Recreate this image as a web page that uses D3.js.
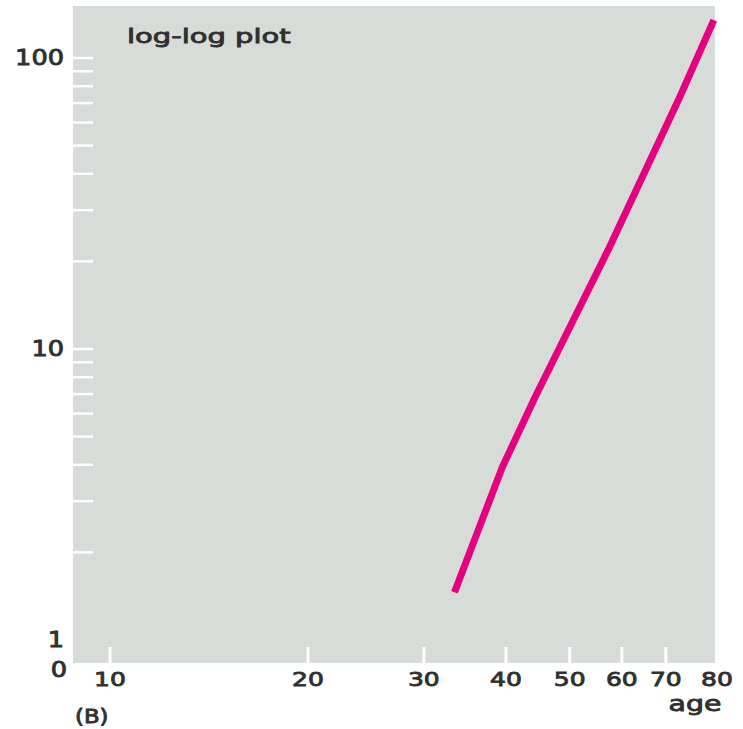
<!DOCTYPE html>
<html>
<head>
<meta charset="utf-8">
<script src="https://cdn.jsdelivr.net/npm/d3@7"></script>
<style>
  html, body { margin: 0; padding: 0; background: #fff; }
  svg { display: block; }
  text { font-family: "DejaVu Sans", sans-serif; fill: #303030; stroke: #303030; stroke-width: 0.85; }
</style>
</head>
<body>
<script>
// age vs. value (log-log)
const ages = [33.4, 39.5, 44.3, 57.2, 73.5, 82.8];
const values = [1.46, 3.93, 6.84, 21.9, 73.5, 135];

const xTicks = [10, 20, 30, 40, 50, 60, 70];
const xLabels = [10, 20, 30, 40, 50, 60, 70, 80];
const yTicks = [2, 3, 4, 5, 6, 7, 8, 9, 10, 20, 30, 40, 50, 60, 70, 80, 90, 100];
const yLabels = [1, 10, 100];

const width = 743, height = 729;
const plot = { left: 73, right: 715, top: 6, bottom: 663 };

const svg = d3.select('body').append('svg')
  .attr('width', width)
  .attr('height', height);

const x = d3.scaleLog().domain([10, 80]).range([110, 704]);
const y = d3.scaleLog().domain([1, 100]).range([640, 58]);

// plot background
svg.append('rect')
  .attr('x', plot.left)
  .attr('y', plot.top)
  .attr('width', plot.right - plot.left)
  .attr('height', plot.bottom - plot.top)
  .attr('fill', '#d8dcd8');

// y ticks (white, inside the plot)
svg.append('g')
  .selectAll('line')
  .data(yTicks)
  .join('line')
  .attr('x1', plot.left)
  .attr('x2', plot.left + 20)
  .attr('y1', d => y(d))
  .attr('y2', d => y(d))
  .attr('stroke', '#fff')
  .attr('stroke-width', 2.5);

// x ticks
svg.append('g')
  .selectAll('line')
  .data(xTicks)
  .join('line')
  .attr('x1', d => x(d))
  .attr('x2', d => x(d))
  .attr('y1', plot.bottom)
  .attr('y2', plot.bottom - 16)
  .attr('stroke', '#fff')
  .attr('stroke-width', 3);

// stretched text helper (the original type is a wide face)
function label(g, tx, ty, str, size, anchor, sx) {
  return g.append('text')
    .attr('transform', `translate(${tx},${ty}) scale(${sx},1)`)
    .attr('text-anchor', anchor)
    .attr('font-size', size)
    .text(str);
}

const txt = svg.append('g');

yLabels.forEach(v => label(txt, 64, y(v) + 7, v, 21, 'end', 1.22));
label(txt, 67, 677, '0', 21, 'end', 1.22);

xLabels.forEach((v, i) => {
  const dx = i === xLabels.length - 1 ? 13 : 0; // last label sits right of the edge
  label(txt, x(v) + dx, 686, v, 20, 'middle', 1.25);
});

label(txt, 695, 711, 'age', 21, 'middle', 1.35);
label(txt, 75, 723, '(B)', 19, 'start', 1.2);
label(txt, 127, 43, 'log-log plot', 20, 'start', 1.45);

// data line
const line = d3.line()
  .x((d, i) => x(ages[i]))
  .y(d => y(d));

svg.append('path')
  .datum(values)
  .attr('d', line)
  .attr('fill', 'none')
  .attr('stroke', '#e5007d')
  .attr('stroke-width', 7)
  .attr('stroke-linejoin', 'round')
  .attr('stroke-linecap', 'butt');
</script>
</body>
</html>
